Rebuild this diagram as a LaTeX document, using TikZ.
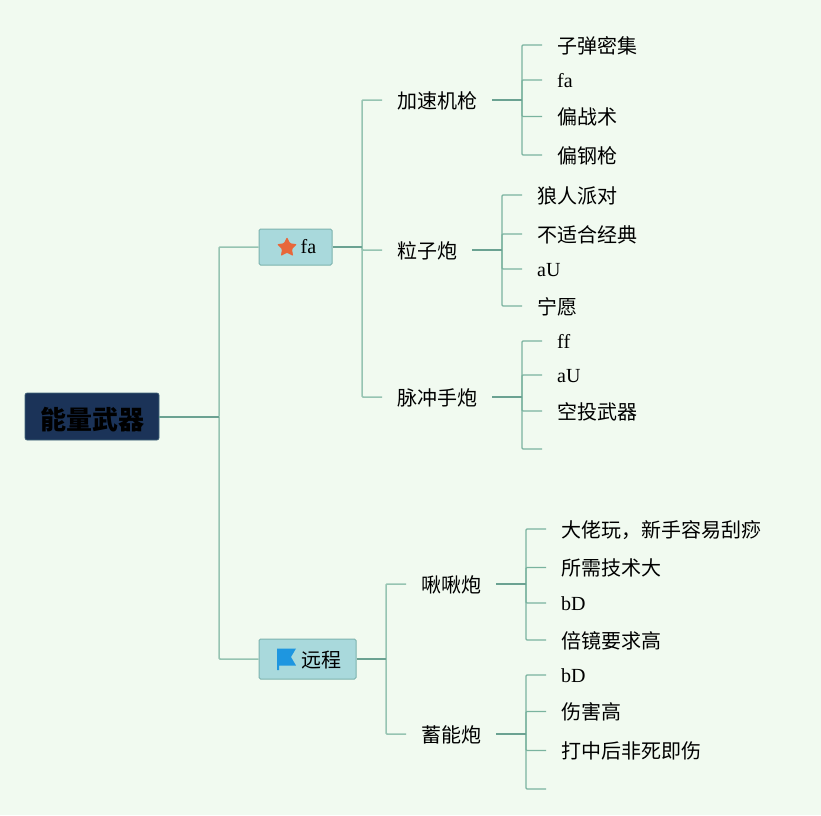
\documentclass[tikz,border=0pt]{standalone}
\usepackage{fontspec}
\setmainfont{Noto Sans CJK SC}
\newfontfamily\latinfont{Liberation Serif}
\usetikzlibrary{positioning, shapes.geometric}
\definecolor{mapbg}{HTML}{F1FAF0}
\definecolor{mapnavy}{HTML}{1B3358}
\definecolor{mapteal}{HTML}{A9D9DC}
\definecolor{mapedge}{HTML}{7DB3AE}
\definecolor{maptrunk}{HTML}{96C4B2}
\definecolor{mapstub}{HTML}{6BA292}
\definecolor{mapleaf}{HTML}{7AB39F}
\definecolor{mapstar}{HTML}{E8673A}
\definecolor{mapflag}{HTML}{1E96E0}
\tikzset{
  rootbox/.style={fill=mapnavy, draw=mapedge!40!mapnavy, line width=0.6pt, rounded corners=2pt,
    minimum width=134pt, minimum height=47pt, inner sep=0pt, text height=25pt, text depth=0pt,
    font=\fontsize{26}{30}\selectfont\bfseries},
  catbox/.style={fill=mapteal, draw=mapedge, line width=1pt, rounded corners=1.5pt, inner sep=0pt,
    font=\fontsize{20}{24}\selectfont},
  branchtxt/.style={inner xsep=15pt, inner ysep=0pt, anchor=west, text height=16pt, text depth=0pt,
    font=\fontsize{20}{24}\selectfont},
  leaftxt/.style={branchtxt},
  latintxt/.style={branchtxt, text height=15.5pt, font=\fontsize{20}{24}\selectfont\latinfont},
  trunkline/.style={draw=maptrunk, line width=1.5pt, rounded corners=1pt},
  stubline/.style={draw=mapstub, line width=2pt},
  leafline/.style={draw=mapleaf, line width=1.1pt, rounded corners=1pt}
}
\begin{document}
\begin{tikzpicture}[x=1pt, y=-1pt]
    \path[use as bounding box, fill=mapbg] (0,0) rectangle (821,815);

    % root and the two boxes
    \node[rootbox] (energy) at (92,416.5) {能量武器};
    \node[catbox, minimum width=73pt, minimum height=36pt] (fabox) at (295.5,247) {\hspace*{26pt}{\latinfont fa}};
    \node[catbox, minimum width=97pt, minimum height=40pt, text height=16pt, text depth=0pt] (far) at (307.5,659) {\hspace*{27pt}远程};
    \node[star, star points=5, star point ratio=2, rounded corners=1pt, fill=mapstar, minimum size=21pt, inner sep=0pt] (staricon) at (287,247.5) {};
    \fill[mapflag] (277,648.5) -- (296,648.5) -- (291,657) -- (296,665.5) -- (279,665.5) -- (279,670) -- (277,670) -- cycle;

    % branches
    \node[branchtxt] (gun) at (382,100) {加速机枪};
    \node[branchtxt] (cannon) at (382,250) {粒子炮};
    \node[branchtxt] (pulse) at (382,397) {脉冲手炮};
    \node[branchtxt] (jiu) at (406,584) {啾啾炮};
    \node[branchtxt] (store) at (406,734) {蓄能炮};

    % leaves
    \node[leaftxt] (gun1) at (542,45) {子弹密集};
    \node[latintxt] (gun2) at (542,80) {fa};
    \node[leaftxt] (gun3) at (542,116.5) {偏战术};
    \node[leaftxt] (gun4) at (542,155) {偏钢枪};
    \node[leaftxt] (cannon1) at (522,195) {狼人派对};
    \node[leaftxt] (cannon2) at (522,234) {不适合经典};
    \node[latintxt] (cannon3) at (522,269) {aU};
    \node[leaftxt] (cannon4) at (522,306) {宁愿};
    \node[latintxt] (pulse1) at (542,341) {ff};
    \node[latintxt] (pulse2) at (542,375) {aU};
    \node[leaftxt] (pulse3) at (542,411) {空投武器};
    \coordinate (pulse4) at (542,449);
    \node[leaftxt] (jiu1) at (546,529) {大佬玩，新手容易刮痧};
    \node[leaftxt] (jiu2) at (546,567.5) {所需技术大};
    \node[latintxt] (jiu3) at (546,603) {bD};
    \node[leaftxt] (jiu4) at (546,640) {倍镜要求高};
    \node[latintxt] (store1) at (546,675) {bD};
    \node[leaftxt] (store2) at (546,711.5) {伤害高};
    \node[leaftxt] (store3) at (546,750.5) {打中后非死即伤};
    \coordinate (store4) at (546,789);

    % forks
    \coordinate (forkroot) at (219,416.5);
    \coordinate (forkfa) at (362,247);
    \coordinate (forkfar) at (386,659);
    \coordinate (forkgun) at (522,100);
    \coordinate (forkcannon) at (502,250);
    \coordinate (forkpulse) at (522,397);
    \coordinate (forkjiu) at (526,584);
    \coordinate (forkstore) at (526,734);

    % connectors
    \foreach \kid in {fabox, far} \draw[trunkline] (forkroot) |- (\kid.west);
    \foreach \kid in {gun, cannon, pulse} \draw[trunkline] (forkfa) |- (\kid.west);
    \foreach \kid in {jiu, store} \draw[trunkline] (forkfar) |- (\kid.west);
    \foreach \kid in {gun1, gun2, gun3, gun4} \draw[leafline] (forkgun) |- (\kid.west);
    \foreach \kid in {cannon1, cannon2, cannon3, cannon4} \draw[leafline] (forkcannon) |- (\kid.west);
    \foreach \kid in {pulse1, pulse2, pulse3} \draw[leafline] (forkpulse) |- (\kid.west);
    \draw[leafline] (forkpulse) |- (pulse4);
    \foreach \kid in {jiu1, jiu2, jiu3, jiu4} \draw[leafline] (forkjiu) |- (\kid.west);
    \foreach \kid in {store1, store2, store3} \draw[leafline] (forkstore) |- (\kid.west);
    \draw[leafline] (forkstore) |- (store4);

    \draw[stubline] (energy.east) -- (forkroot);
    \draw[stubline] (fabox.east) -- (forkfa);
    \draw[stubline] (far.east) -- (forkfar);
    \draw[stubline] (gun.east) -- (forkgun);
    \draw[stubline] (cannon.east) -- (forkcannon);
    \draw[stubline] (pulse.east) -- (forkpulse);
    \draw[stubline] (jiu.east) -- (forkjiu);
    \draw[stubline] (store.east) -- (forkstore);
  \end{tikzpicture}
\end{document}
